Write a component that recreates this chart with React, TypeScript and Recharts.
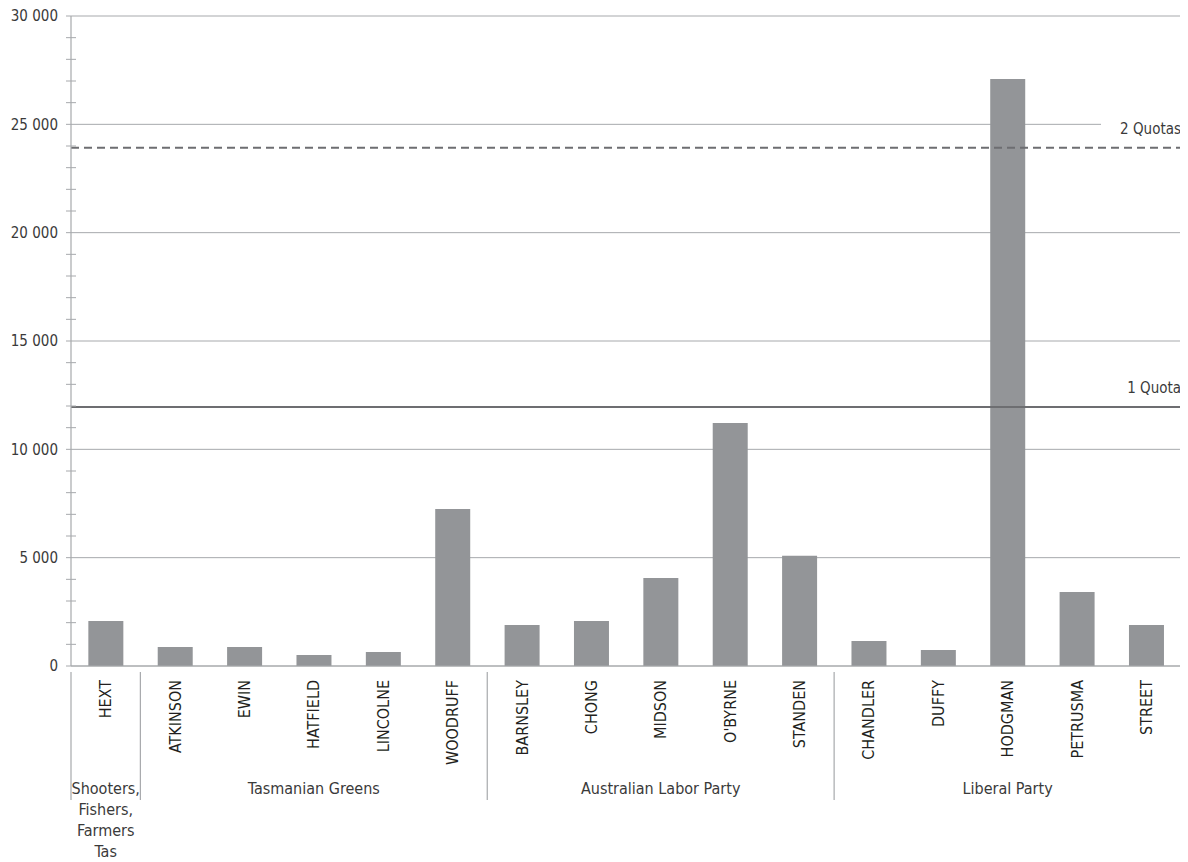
import React from "react";
import { BarChart, Bar, XAxis, YAxis, CartesianGrid, ReferenceLine } from "recharts";

const candidates = [
  "HEXT", "ATKINSON", "EWIN", "HATFIELD", "LINCOLNE", "WOODRUFF",
  "BARNSLEY", "CHONG", "MIDSON", "O'BYRNE", "STANDEN",
  "CHANDLER", "DUFFY", "HODGMAN", "PETRUSMA", "STREET",
];
const parties = [
  "Shooters, Fishers, Farmers Tas",
  "Tasmanian Greens", "Tasmanian Greens", "Tasmanian Greens", "Tasmanian Greens", "Tasmanian Greens",
  "Australian Labor Party", "Australian Labor Party", "Australian Labor Party", "Australian Labor Party", "Australian Labor Party",
  "Liberal Party", "Liberal Party", "Liberal Party", "Liberal Party", "Liberal Party",
];
const votes = [2077, 877, 877, 508, 646, 7245, 1892, 2077, 4061, 11215, 5090, 1154, 738, 27090, 3415, 1892];

const quota = 11958;
const twoQuotas = 23916;

const majorTicks = [0, 5000, 10000, 15000, 20000, 25000, 30000];
const allTicks = Array.from({ length: 31 }, (_, i) => i * 1000);

const data = candidates.map((name, i) => ({ name, party: parties[i], votes: votes[i] }));

const FONT = '"DejaVu Sans Condensed", "Liberation Sans Narrow", Roboto, sans-serif';
const AXIS = "#a7a9ac";
const TEXT = "#3a3a3a";

const fmt = (v: number) => (v >= 1000 ? `${Math.floor(v / 1000)} ${String(v % 1000).padStart(3, "0")}` : `${v}`);

function YTick(props: any) {
  const { x, y, payload } = props;
  const v = payload.value as number;
  const major = v % 5000 === 0;
  if (!major) {
    return <line x1={x - 5} x2={x + 5} y1={y} y2={y} stroke={AXIS} strokeWidth={1} />;
  }
  return (
    <g>
      <line x1={x - 5} x2={x} y1={y} y2={y} stroke={AXIS} strokeWidth={1} />
      <text x={x - 13} y={y} dy="0.35em" textAnchor="end" fontFamily={FONT} fontSize={15} fill={TEXT}>
        {fmt(v)}
      </text>
    </g>
  );
}

function XTick(props: any) {
  const { x, y, payload } = props;
  const index = payload.index as number;
  const half = payload.offset ?? 34.69;
  const party = parties[index];
  const first = index === 0 || parties[index - 1] !== party;
  const last = index === parties.length - 1;
  const count = parties.filter((p) => p === party).length;
  const left = x - half;
  const center = left + count * half;
  // a one-candidate group is too narrow for its name, so it wraps word by word
  const lines = count === 1 ? party.split(" ") : [party];
  return (
    <g>
      <text
        transform={`translate(${x},${y + 14}) rotate(-90)`}
        textAnchor="end"
        dy="0.35em"
        fontFamily={FONT}
        fontSize={16}
        fill="#231f20"
      >
        {payload.value}
      </text>
      {first && <line x1={left} x2={left} y1={y + 6} y2={y + 134} stroke={AXIS} strokeWidth={1.2} />}
      {last && <line x1={x + half} x2={x + half} y1={y + 6} y2={y + 134} stroke={AXIS} strokeWidth={1.2} />}
      {first &&
        lines.map((ln, i) => (
          <text
            key={i}
            x={center}
            y={y + 128 + i * 21}
            textAnchor="middle"
            fontFamily={FONT}
            fontSize={16}
            fill={TEXT}
          >
            {ln}
          </text>
        ))}
    </g>
  );
}

function QuotaLabel(props: any) {
  const { viewBox, value, mask } = props;
  const right = viewBox.x + viewBox.width;
  const ty = viewBox.y - 19;
  return (
    <g>
      {mask && <rect x={right - 80} y={ty - 10} width={82} height={20} fill="#fff" />}
      <text x={right} y={ty} dy="0.35em" textAnchor="end" fontFamily={FONT} fontSize={15} fill={TEXT}>
        {value}
      </text>
    </g>
  );
}

export default function App() {
  return (
    <BarChart
      width={1180}
      height={854}
      data={data}
      margin={{ top: 8, right: 7, bottom: 0, left: 0 }}
      barCategoryGap="25%"
    >
      <CartesianGrid vertical={false} horizontalValues={majorTicks} stroke={AXIS} strokeWidth={1} />
      <XAxis
        dataKey="name"
        interval={0}
        height={196}
        tickSize={0}
        tickMargin={0}
        tickLine={false}
        axisLine={{ stroke: AXIS, strokeWidth: 1.2 }}
        tick={<XTick />}
      />
      <YAxis
        width={63}
        domain={[0, 30000]}
        ticks={allTicks}
        interval={0}
        tickSize={0}
        tickMargin={0}
        tickLine={false}
        axisLine={{ stroke: AXIS, strokeWidth: 1.2 }}
        tick={<YTick />}
      />
      <Bar dataKey="votes" fill="#939598" isAnimationActive={false} />
      <ReferenceLine
        y={quota}
        stroke="#6d6e71"
        strokeWidth={2}
        label={<QuotaLabel value="1 Quota" />}
      />
      <ReferenceLine
        y={twoQuotas}
        stroke="#6d6e71"
        strokeWidth={2}
        strokeDasharray="8 5"
        label={<QuotaLabel value="2 Quotas" mask />}
      />
    </BarChart>
  );
}
